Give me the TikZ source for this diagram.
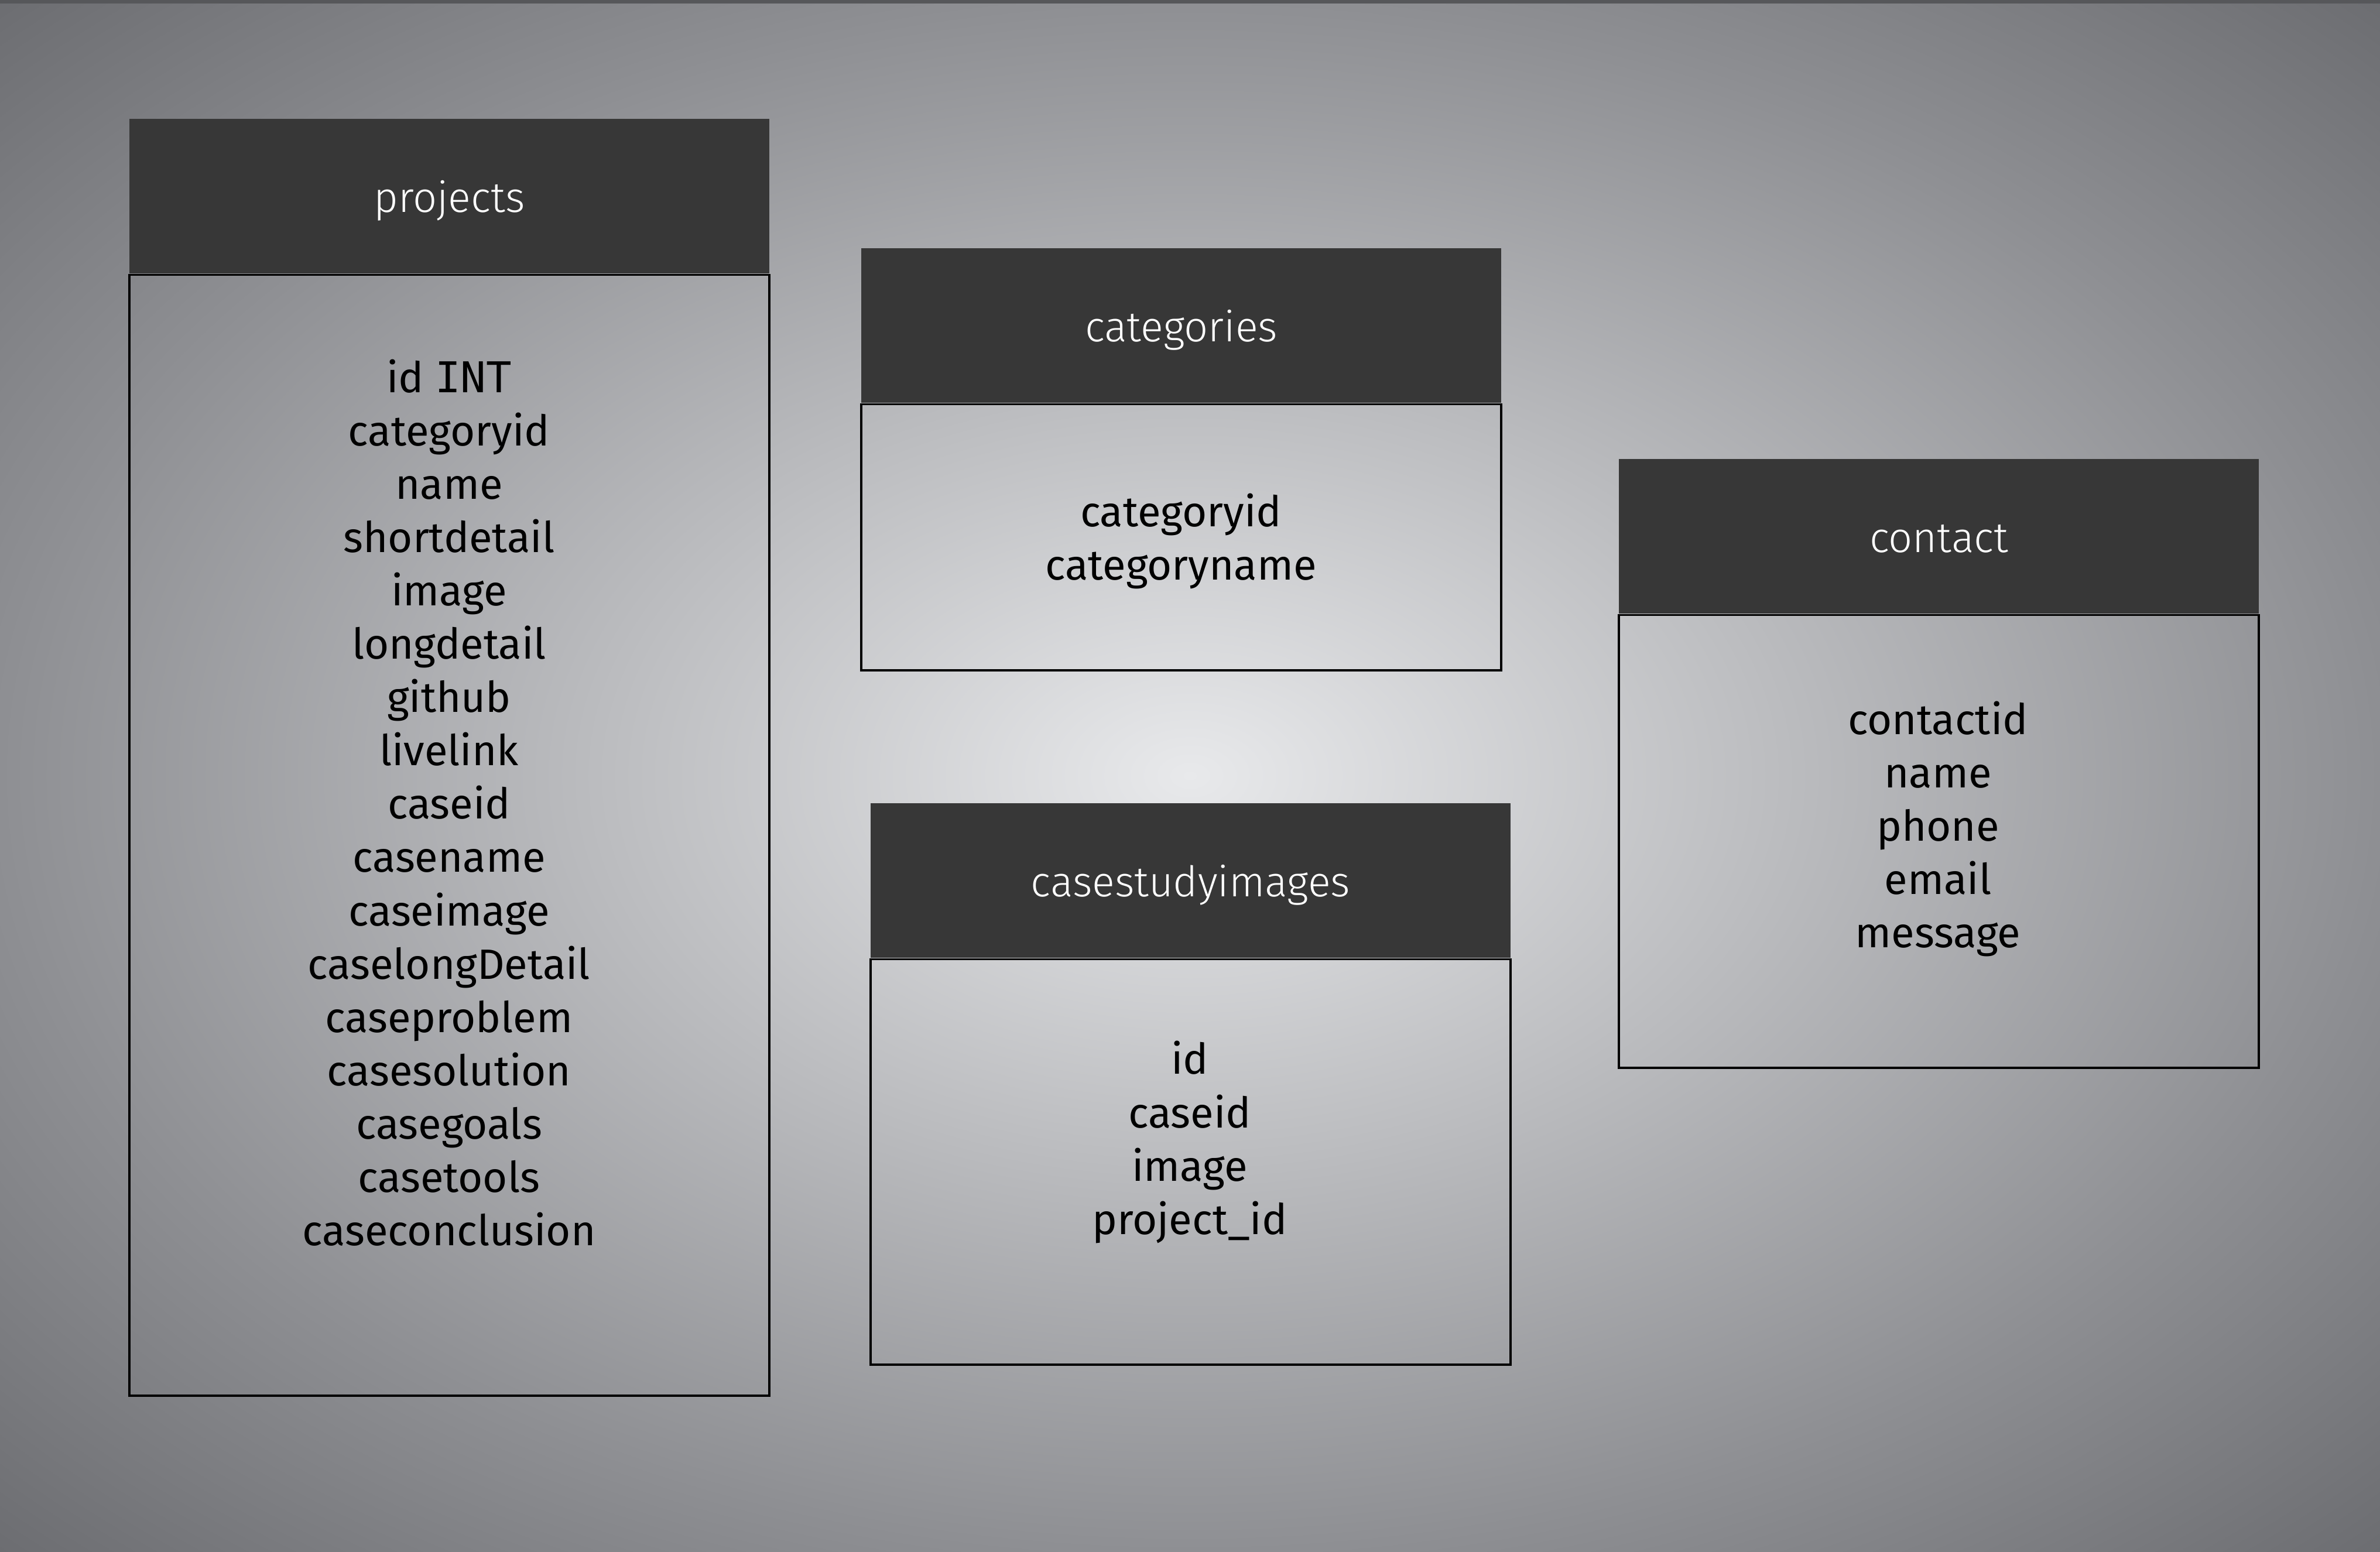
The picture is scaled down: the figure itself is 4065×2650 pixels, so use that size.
\documentclass[tikz,border=0pt]{standalone}
\usepackage{fontspec}
\setmainfont{Fira Sans}
\newfontfamily\headfont{Fira Sans}[UprightFont=* Light]
\newfontfamily\typefont{DejaVu Sans Mono}
\usetikzlibrary{positioning}

\definecolor{bgcenter}{HTML}{E8E9EB}
\definecolor{bgedge}{HTML}{8E8F93}
\definecolor{bgcorner}{HTML}{6A6B6F}
\definecolor{headgray}{HTML}{373737}
\definecolor{edgegray}{HTML}{56575A}
\pgfdeclareradialshading{bgglow}{\pgfpoint{0bp}{0bp}}{color(0bp)=(bgcenter); color(25bp)=(bgedge); color(36bp)=(bgcorner); color(50bp)=(bgcorner)}

\begin{document}
\begin{tikzpicture}[
    x=0.01cm, y=-0.01cm,
    header/.style={rectangle, fill=headgray, minimum width=10.93cm, minimum height=2.64cm, inner sep=0pt, anchor=north west, text=white, text height=0.70cm, text depth=0.14cm, font=\headfont\fontsize{20.5}{25}\selectfont},
    tablebody/.style={rectangle, draw=black, line width=1.1pt, minimum width=10.93cm, inner sep=0pt},
    fields/.style={align=center, inner sep=0pt, text=black, font=\fontsize{20.6}{25.9}\selectfont},
]

% Background
\useasboundingbox (0,0) rectangle (4065,2650);
\shade[shading=bgglow] (0,0) rectangle (4065,2650);
\fill[edgegray] (0,0) rectangle (4065,6);

% Table: projects
\node[header] (projects) at (220,202) {projects};
\node[tablebody, minimum height=19.13cm, below=0pt of projects] (projects-body) {};
\node[fields] (projects-fields) at (767,1371) {id {\typefont INT}\\categoryid\\name\\shortdetail\\image\\longdetail\\github\\livelink\\caseid\\casename\\caseimage\\caselongDetail\\caseproblem\\casesolution\\casegoals\\casetools\\caseconclusion};

% Table: categories
\node[header] (categories) at (1470,423) {categories};
\node[tablebody, minimum height=4.54cm, below=0pt of categories] (categories-body) {};
\node[fields] (categories-fields) at (2017,924) {categoryid\\categoryname};

% Table: casestudyimages
\node[header] (casestudyimages) at (1486,1371) {casestudyimages};
\node[tablebody, minimum height=6.92cm, below=0pt of casestudyimages] (casestudyimages-body) {};
\node[fields] (casestudyimages-fields) at (2032,1951) {id\\caseid\\image\\project\_id};

% Table: contact
\node[header] (contact) at (2764,783) {contact};
\node[tablebody, minimum height=7.73cm, below=0pt of contact] (contact-body) {};
\node[fields] (contact-fields) at (3310,1416) {contactid\\name\\phone\\email\\message};

\end{tikzpicture}
\end{document}
